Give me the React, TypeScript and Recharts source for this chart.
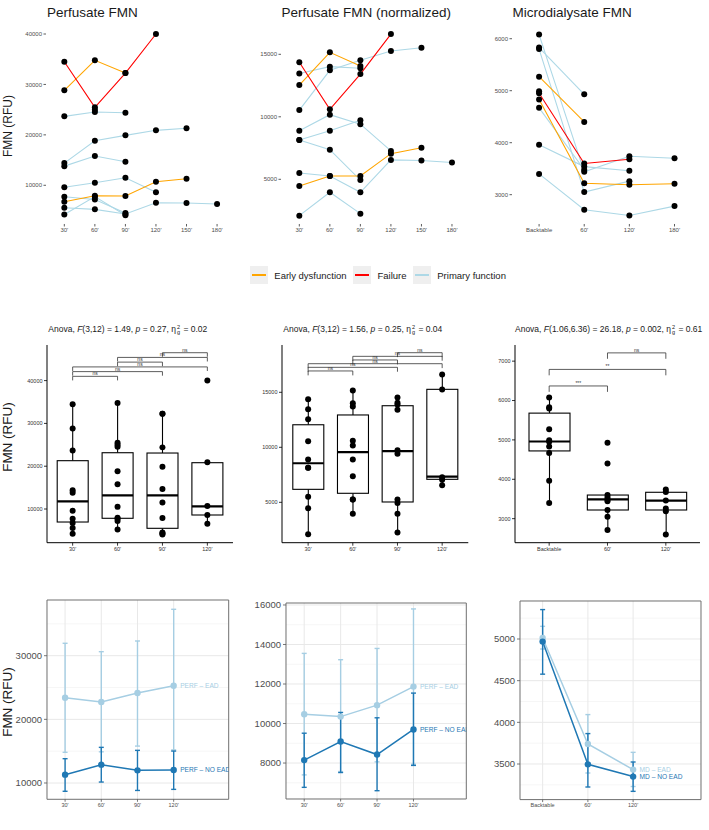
import React from 'react';
import { ComposedChart, Line, Bar, XAxis, YAxis, ReferenceLine, ReferenceArea, CartesianGrid, ErrorBar } from 'recharts';

const FONT = "'Liberation Sans', Arial, Helvetica, sans-serif";
const C_EARLY = '#FFA500';
const C_FAIL = '#FF0000';
const C_PRIM = '#ADD8E6';
const C_EAD = '#a6cee3';
const C_NOEAD = '#1f78b4';

// ---------- Row 1: trajectories ----------
const PF_TIMES = ["30'", "60'", "90'", "120'", "150'", "180'"];
const PF_PRIMARY = [
  [23670, 24530, 24400, null, null, null],
  [14400, 18840, 19900, 20900, 21300, null],
  [13800, 15800, 14670, null, null, null],
  [9600, 10500, 11500, 8600, null, null],
  [7730, 7200, 4500, null, null, null],
  [4200, 7750, 4050, null, null, null],
  [5550, 5230, 4300, 6550, 6500, 6290],
  [null, 25000, null, null, null, null],
];
const PF_EARLY = [
  [28830, 34780, 32260, null, null, null],
  [6740, 7930, 7870, 10700, 11300, null],
];
const PF_FAIL = [[34500, 25460, 32260, 40000, null, null]];

const NM_TIMES = ["30'", "60'", "90'", "120'", "150'", "180'"];
const NM_PRIMARY = [
  [13470, 14010, 13890, null, null, null],
  [10540, 13720, 14530, 15260, 15530, null],
  [8890, 10170, 9410, 7270, null, null],
  [8140, 8890, 9730, null, null, null],
  [8140, 7370, 4940, null, null, null],
  [5500, 5260, 3960, 6550, 6500, 6340],
  [2090, 3960, 2250, null, null, null],
];
const NM_EARLY = [
  [12540, 15160, 14060, null, null, null],
  [4460, 5260, 5260, 7050, 7530, null],
];
const NM_FAIL = [[14360, 10600, 13420, 16620, null, null]];

const MD_TIMES = ['Backtable', "60'", "120'", "180'"];
const MD_PRIMARY = [
  [6080, 3440, 3740, 3700],
  [5830, 4930, null, null],
  [5800, 3050, 3260, null],
  [4670, 3480, null, null],
  [3960, 3540, 3460, null],
  [3400, 2710, 2600, 2780],
  [4990, null, null, null],
];
const MD_EARLY = [
  [5270, 4400, null, null],
  [4830, 3220, 3190, 3210],
];
const MD_FAIL = [[4950, 3600, 3680, null]];

const LEGEND_LABELS = ['Early dysfunction', 'Failure', 'Primary function'];
const LEGEND_COLORS = [C_EARLY, C_FAIL, C_PRIM];

// ---------- Row 2: box plots ----------
const PF_BOX_LABELS = ["30'", "60'", "90'", "120'"];
const PF_Q1 = [6960, 7830, 5490, 8600];
const PF_MED = [11800, 13200, 13200, 10630];
const PF_Q3 = [21290, 23150, 23080, 20820];
const PF_WLO = [4160, 5200, 4000, 6500];
const PF_WHI = [34530, 34800, 32270, 20900];
const PF_BRACKETS = [
  ["30'", "60'", 41000, 'ns'],
  ["30'", "90'", 42100, 'ns'],
  ["30'", "120'", 43200, 'ns'],
  ["60'", "90'", 44320, 'ns'],
  ["60'", "120'", 45420, 'ns'],
  ["90'", "120'", 46520, 'ns'],
];

const NM_BOX_LABELS = ["30'", "60'", "90'", "120'"];
const NM_Q1 = [6180, 5820, 5030, 7090];
const NM_MED = [8550, 9570, 9660, 7330];
const NM_Q3 = [12050, 12940, 13780, 15270];
const NM_WLO = [2090, 3940, 2240, 6480];
const NM_WHI = [14390, 15210, 14540, 16660];
const NM_BRACKETS = [
  ["30'", "60'", 16940, 'ns'],
  ["30'", "90'", 17270, 'ns'],
  ["30'", "120'", 17600, 'ns'],
  ["60'", "90'", 17940, 'ns'],
  ["60'", "120'", 18270, 'ns'],
  ["90'", "120'", 18600, 'ns'],
];

const MD_BOX_LABELS = ['Backtable', "60'", "120'"];
const MD_Q1 = [4720, 3220, 3220];
const MD_MED = [4960, 3490, 3460];
const MD_Q3 = [5680, 3600, 3670];
const MD_WLO = [3400, 2710, 2600];
const MD_WHI = [6080, 3600, 3740];
const MD_BRACKETS = [
  ['Backtable', "60'", 6370, '***'],
  ['Backtable', "120'", 6790, '**'],
  ["60'", "120'", 7210, 'ns'],
];

// ---------- Row 3: means with error bars ----------
const P_TIMES = ["30'", "60'", "90'", "120'"];
const PERF_EAD_MEAN = [23400, 22730, 24140, 25290];
const PERF_EAD_LO = [14820, 14900, 15800, 15200];
const PERF_EAD_HI = [31950, 30630, 32310, 37290];
const PERF_NO_MEAN = [11310, 12880, 11990, 12040];
const PERF_NO_LO = [8700, 10150, 8830, 9000];
const PERF_NO_HI = [13820, 15600, 15130, 15020];

const NORM_EAD_MEAN = [10470, 10350, 10930, 11870];
const NORM_EAD_LO = [7400, 7570, 8060, 7940];
const NORM_EAD_HI = [13550, 13230, 13800, 15800];
const NORM_NO_MEAN = [8150, 9090, 8430, 9700];
const NORM_NO_LO = [6770, 7520, 6600, 7880];
const NORM_NO_HI = [9510, 10560, 10290, 11540];

const M_TIMES = ['Backtable', "60'", "120'"];
const MD_EAD_MEAN = [5012, 3740, 3433];
const MD_EAD_LO = [4880, 3392, 3230];
const MD_EAD_HI = [5152, 4093, 3640];
const MD_NO_MEAN = [4969, 3496, 3349];
const MD_NO_LO = [4578, 3224, 3172];
const MD_NO_HI = [5353, 3865, 3524];

// ---------- helpers ----------
function Frame({ x0, y0, x1, y1, yw, xh, data, children }: any) {
  const pad = 8;
  return (
    <div style={{ position: 'absolute', left: x0 - yw, top: y0 - pad }}>
      <ComposedChart
        width={x1 - x0 + yw + pad}
        height={y1 - y0 + pad + xh}
        data={data}
        margin={{ top: pad, right: pad, bottom: 0, left: 0 }}
      >
        {children}
      </ComposedChart>
    </div>
  );
}

function buildSeries(primary: any[], early: any[], fail: any[]) {
  const out: any[] = [];
  primary.forEach((v, i) => out.push({ key: 'p' + i, values: v, color: C_PRIM }));
  early.forEach((v, i) => out.push({ key: 'e' + i, values: v, color: C_EARLY }));
  fail.forEach((v, i) => out.push({ key: 'f' + i, values: v, color: C_FAIL }));
  return out;
}

function TrajPanel({ rect, times, series, yDomain, yTicks }: any) {
  const data = times.map((t: string, i: number) => {
    const row: any = { x: i, label: t };
    series.forEach((s: any) => { row[s.key] = s.values[i]; });
    return row;
  });
  const [x0, y0, x1, y1] = rect;
  const children = [
    <XAxis key="xa" type="number" dataKey="x" domain={[-0.6, times.length - 0.4]} allowDataOverflow
      ticks={times.map((_: any, i: number) => i)} tickFormatter={(i: number) => times[i]} interval={0}
      axisLine={false} tickLine={{ stroke: '#333', strokeWidth: 0.8 }} tickSize={2.5} tickMargin={1.5}
      tick={{ fontSize: 6, fill: '#4d4d4d', fontFamily: FONT }} height={14} />,
    <YAxis key="ya" type="number" domain={yDomain} allowDataOverflow ticks={yTicks} interval={0}
      axisLine={false} tickLine={{ stroke: '#333', strokeWidth: 0.8 }} tickSize={2.5} tickMargin={1.5}
      tick={{ fontSize: 6, fill: '#4d4d4d', fontFamily: FONT }} width={34} />,
    ...series.map((s: any) => (
      <Line key={'l' + s.key} dataKey={s.key} stroke={s.color} strokeWidth={1.1} dot={false}
        activeDot={false} isAnimationActive={false} connectNulls={false} />
    )),
    ...series.map((s: any) => (
      <Line key={'d' + s.key} dataKey={s.key} stroke="none" strokeWidth={0}
        dot={{ r: 3, fill: '#000', stroke: 'none' }} activeDot={false} isAnimationActive={false} />
    )),
  ];
  return <Frame x0={x0} y0={y0} x1={x1} y1={y1} yw={34} xh={14} data={data}>{children}</Frame>;
}

const BoxShape = (props: any) => {
  const { x, y, width, height, payload } = props;
  const top = Math.min(y, y + height);
  const h = Math.abs(height);
  const k = h / (payload.q3 - payload.q1);
  const py = (v: number) => top + (payload.q3 - v) * k;
  const cx = x + width / 2;
  return (
    <g>
      <line x1={cx} x2={cx} y1={py(payload.whi)} y2={top} stroke="#000" strokeWidth={1.1} />
      <line x1={cx} x2={cx} y1={top + h} y2={py(payload.wlo)} stroke="#000" strokeWidth={1.1} />
      <rect x={x} y={top} width={width} height={h} fill="#fff" stroke="#000" strokeWidth={1.1} />
      <line x1={x} x2={x + width} y1={py(payload.med)} y2={py(payload.med)} stroke="#000" strokeWidth={2.2} />
    </g>
  );
};

function BoxPanel({ rect, labels, q1, med, q3, wlo, whi, series, brackets, drop, yDomain, yTicks, pad, barSize }: any) {
  const data = labels.map((t: string, i: number) => {
    const row: any = { label: t, box: [q1[i], q3[i]], q1: q1[i], med: med[i], q3: q3[i], wlo: wlo[i], whi: whi[i] };
    series.forEach((s: any) => { row[s.key] = s.values[i]; });
    return row;
  });
  const [x0, y0, x1, y1] = rect;
  const bstroke = { stroke: '#333', strokeWidth: 0.8 };
  const children = [
    <XAxis key="xa" type="category" dataKey="label" padding={{ left: pad, right: pad }} interval={0}
      axisLine={{ stroke: '#000', strokeWidth: 1 }} tickLine={{ stroke: '#000', strokeWidth: 0.8 }} tickSize={3} tickMargin={1.5}
      tick={{ fontSize: 5.5, fill: '#333', fontFamily: FONT }} height={14} />,
    <YAxis key="ya" type="number" domain={yDomain} allowDataOverflow ticks={yTicks} interval={0}
      axisLine={{ stroke: '#000', strokeWidth: 1 }} tickLine={{ stroke: '#000', strokeWidth: 0.8 }} tickSize={3} tickMargin={1.5}
      tick={{ fontSize: 5.5, fill: '#333', fontFamily: FONT }} width={34} />,
    <Bar key="box" dataKey="box" barSize={barSize} shape={BoxShape} isAnimationActive={false} />,
    ...series.map((s: any) => (
      <Line key={'d' + s.key} dataKey={s.key} stroke="none" strokeWidth={0}
        dot={{ r: 3, fill: '#000', stroke: 'none' }} activeDot={false} isAnimationActive={false} />
    )),
    ...brackets.flatMap((b: any, j: number) => [
      <ReferenceLine key={'bh' + j} segment={[{ x: b[0], y: b[2] }, { x: b[1], y: b[2] }]} {...bstroke}
        ifOverflow="visible"
        label={{ value: b[3], position: 'top', offset: 1, fontSize: 5, fill: '#333', fontFamily: FONT }} />,
      <ReferenceLine key={'ba' + j} segment={[{ x: b[0], y: b[2] }, { x: b[0], y: b[2] - drop }]} {...bstroke} ifOverflow="visible" />,
      <ReferenceLine key={'bb' + j} segment={[{ x: b[1], y: b[2] }, { x: b[1], y: b[2] - drop }]} {...bstroke} ifOverflow="visible" />,
    ]),
  ];
  return <Frame x0={x0} y0={y0} x1={x1} y1={y1} yw={34} xh={14} data={data}>{children}</Frame>;
}

const endDot = (color: string, last: number, text: string) => (p: any) => (
  <g key={'dot' + p.index}>
    <circle cx={p.cx} cy={p.cy} r={3.2} fill={color} />
    {p.index === last ? (
      <text x={p.cx + 6.5} y={p.cy} dy={2.3} fontSize={6.6} fill={color} fontFamily={FONT}>{text}</text>
    ) : null}
  </g>
);

function MeanPanel({ rect, times, eM, eLo, eHi, nM, nLo, nHi, yDomain, yTicks, yMinor, xMax, eName, nName }: any) {
  const data = times.map((t: string, i: number) => ({
    x: i,
    eM: eM[i], eErr: [eM[i] - eLo[i], eHi[i] - eM[i]],
    nM: nM[i], nErr: [nM[i] - nLo[i], nHi[i] - nM[i]],
  }));
  const [x0, y0, x1, y1] = rect;
  const last = times.length - 1;
  const xs = times.map((_: any, i: number) => i);
  const children = [
    <CartesianGrid key="gmin" horizontalValues={yMinor} vertical={false} stroke="#f2f2f2" strokeWidth={0.7} />,
    <CartesianGrid key="gmaj" horizontalValues={yTicks} verticalValues={xs} stroke="#e8e8e8" strokeWidth={1} />,
    <XAxis key="xa" type="number" dataKey="x" domain={[-0.5, xMax]} allowDataOverflow ticks={xs}
      tickFormatter={(i: number) => times[i]} interval={0}
      axisLine={false} tickLine={{ stroke: '#555', strokeWidth: 0.8 }} tickSize={2.5} tickMargin={1.5}
      tick={{ fontSize: 5.5, fill: '#4d4d4d', fontFamily: FONT }} height={14} />,
    <YAxis key="ya" type="number" domain={yDomain} allowDataOverflow ticks={yTicks} interval={0}
      axisLine={false} tickLine={{ stroke: '#555', strokeWidth: 0.8 }} tickSize={3} tickMargin={2}
      tick={{ fontSize: 9.5, fill: '#4d4d4d', fontFamily: FONT }} width={40} />,
    <Line key="ead" dataKey="eM" stroke={C_EAD} strokeWidth={1.5} isAnimationActive={false}
      activeDot={false} dot={endDot(C_EAD, last, eName)}>
      <ErrorBar dataKey="eErr" direction="y" width={2.5} strokeWidth={1.4} stroke={C_EAD} />
    </Line>,
    <Line key="no" dataKey="nM" stroke={C_NOEAD} strokeWidth={1.5} isAnimationActive={false}
      activeDot={false} dot={endDot(C_NOEAD, last, nName)}>
      <ErrorBar dataKey="nErr" direction="y" width={2.5} strokeWidth={1.4} stroke={C_NOEAD} />
    </Line>,
    <ReferenceArea key="border" x1={-0.5} x2={xMax} y1={yDomain[0]} y2={yDomain[1]} fill="none"
      fillOpacity={0} stroke="#6e6e6e" strokeWidth={1} ifOverflow="visible" />,
  ];
  return <Frame x0={x0} y0={y0} x1={x1} y1={y1} yw={40} xh={14} data={data}>{children}</Frame>;
}

const abs = (left: number, top: number, extra: any = {}) => ({ position: 'absolute' as const, left, top, whiteSpace: 'nowrap' as const, ...extra });

function YLabel({ cx, cy, size }: any) {
  return (
    <div style={abs(cx, cy, { transform: 'translate(-50%, -50%) rotate(-90deg)', fontSize: size, color: '#1a1a1a', lineHeight: 1 })}>
      FMN (RFU)
    </div>
  );
}

function Anova({ left, f, fv, p, eta }: any) {
  return (
    <div style={abs(left, 323, { fontSize: 8.5, color: '#1a1a1a', lineHeight: '12px' })}>
      Anova, <i>F</i>({f}) = {fv}, <i>p</i> = {p}, η
      <span style={{ display: 'inline-flex', flexDirection: 'column', fontSize: 5.5, lineHeight: '5px', verticalAlign: 'middle', margin: '0 1px' }}>
        <span>2</span><span>g</span>
      </span> = {eta}
    </div>
  );
}

export default function App() {
  const pfSeries = buildSeries(PF_PRIMARY, PF_EARLY, PF_FAIL);
  const nmSeries = buildSeries(NM_PRIMARY, NM_EARLY, NM_FAIL);
  const mdSeries = buildSeries(MD_PRIMARY, MD_EARLY, MD_FAIL);
  const titleStyle = { fontSize: 13.5, color: '#1a1a1a', lineHeight: '16px' };
  return (
    <div style={{ position: 'absolute', left: 0, top: 0, width: 709, height: 830, background: '#fff', fontFamily: FONT, overflow: 'hidden' }}>
      {/* Row 1 */}
      <div style={abs(47, 5, titleStyle)}>Perfusate FMN</div>
      <div style={abs(281.5, 5, titleStyle)}>Perfusate FMN (normalized)</div>
      <div style={abs(512.5, 5, titleStyle)}>Microdialysate FMN</div>
      <YLabel cx={7.5} cy={126} size={12} />
      <TrajPanel rect={[46, 24, 235.4, 224]} times={PF_TIMES} series={pfSeries}
        yDomain={[2326, 41983]} yTicks={[10000, 20000, 30000, 40000]} />
      <TrajPanel rect={[281, 24, 470.3, 224]} times={NM_TIMES} series={nmSeries}
        yDomain={[1424, 17424]} yTicks={[5000, 10000, 15000]} />
      <TrajPanel rect={[512.2, 24, 701.8, 224]} times={MD_TIMES} series={mdSeries}
        yDomain={[2436, 6283]} yTicks={[3000, 4000, 5000, 6000]} />

      {/* Legend */}
      <div style={abs(250, 266, { display: 'flex', alignItems: 'center', fontSize: 9.5, color: '#1a1a1a' })}>
        {LEGEND_LABELS.map((lab, i) => (
          <div key={lab} style={{ display: 'flex', alignItems: 'center', marginRight: 6.5 }}>
            <div style={{ width: 18, height: 18, background: '#efefef', display: 'flex', alignItems: 'center', justifyContent: 'center', marginRight: 6.3 }}>
              <div style={{ width: 14, height: 1.1, background: LEGEND_COLORS[i] }} />
            </div>
            <span>{lab}</span>
          </div>
        ))}
      </div>

      {/* Row 2 */}
      <Anova left={48.3} f="3,12" fv="1.49" p="0.27" eta="0.02" />
      <Anova left={283.3} f="3,12" fv="1.56" p="0.25" eta="0.04" />
      <Anova left={515} f="1.06,6.36" fv="26.18" p="0.002" eta="0.61" />
      <YLabel cx={8} cy={437} size={13.5} />
      <BoxPanel rect={[47, 345, 233, 542.7]} labels={PF_BOX_LABELS} q1={PF_Q1} med={PF_MED} q3={PF_Q3}
        wlo={PF_WLO} whi={PF_WHI} series={pfSeries} brackets={PF_BRACKETS} drop={950}
        yDomain={[2130, 48320]} yTicks={[10000, 20000, 30000, 40000]} pad={3.2} barSize={31} />
      <BoxPanel rect={[282, 345, 468.3, 542.7]} labels={NM_BOX_LABELS} q1={NM_Q1} med={NM_MED} q3={NM_Q3}
        wlo={NM_WLO} whi={NM_WHI} series={nmSeries} brackets={NM_BRACKETS} drop={400}
        yDomain={[1330, 19300]} yTicks={[5000, 10000, 15000]} pad={3.8} barSize={31} />
      <BoxPanel rect={[515, 345, 700, 542.7]} labels={MD_BOX_LABELS} q1={MD_Q1} med={MD_MED} q3={MD_Q3}
        wlo={MD_WLO} whi={MD_WHI} series={mdSeries} brackets={MD_BRACKETS} drop={150}
        yDomain={[2390, 7410]} yTicks={[3000, 4000, 5000, 6000, 7000]} pad={5} barSize={41} />

      {/* Row 3 */}
      <YLabel cx={8} cy={702} size={13.5} />
      <MeanPanel rect={[47, 600, 228.7, 799.3]} times={P_TIMES}
        eM={PERF_EAD_MEAN} eLo={PERF_EAD_LO} eHi={PERF_EAD_HI}
        nM={PERF_NO_MEAN} nLo={PERF_NO_LO} nHi={PERF_NO_HI}
        yDomain={[7440, 38750]} yTicks={[10000, 20000, 30000]} yMinor={[15000, 25000, 35000]} xMax={4.52}
        eName="PERF – EAD" nName="PERF – NO EAD" />
      <MeanPanel rect={[285.7, 603.3, 466, 799.3]} times={P_TIMES}
        eM={NORM_EAD_MEAN} eLo={NORM_EAD_LO} eHi={NORM_EAD_HI}
        nM={NORM_NO_MEAN} nLo={NORM_NO_LO} nHi={NORM_NO_HI}
        yDomain={[6180, 16100]} yTicks={[8000, 10000, 12000, 14000, 16000]} yMinor={[7000, 9000, 11000, 13000, 15000]} xMax={4.45}
        eName="PERF – EAD" nName="PERF – NO EAD" />
      <MeanPanel rect={[520, 600.7, 701, 799.3]} times={M_TIMES}
        eM={MD_EAD_MEAN} eLo={MD_EAD_LO} eHi={MD_EAD_HI}
        nM={MD_NO_MEAN} nLo={MD_NO_LO} nHi={MD_NO_HI}
        yDomain={[3073, 5456]} yTicks={[3500, 4000, 4500, 5000]} yMinor={[3250, 3750, 4250, 4750, 5250]} xMax={3.5}
        eName="MD – EAD" nName="MD – NO EAD" />
    </div>
  );
}
